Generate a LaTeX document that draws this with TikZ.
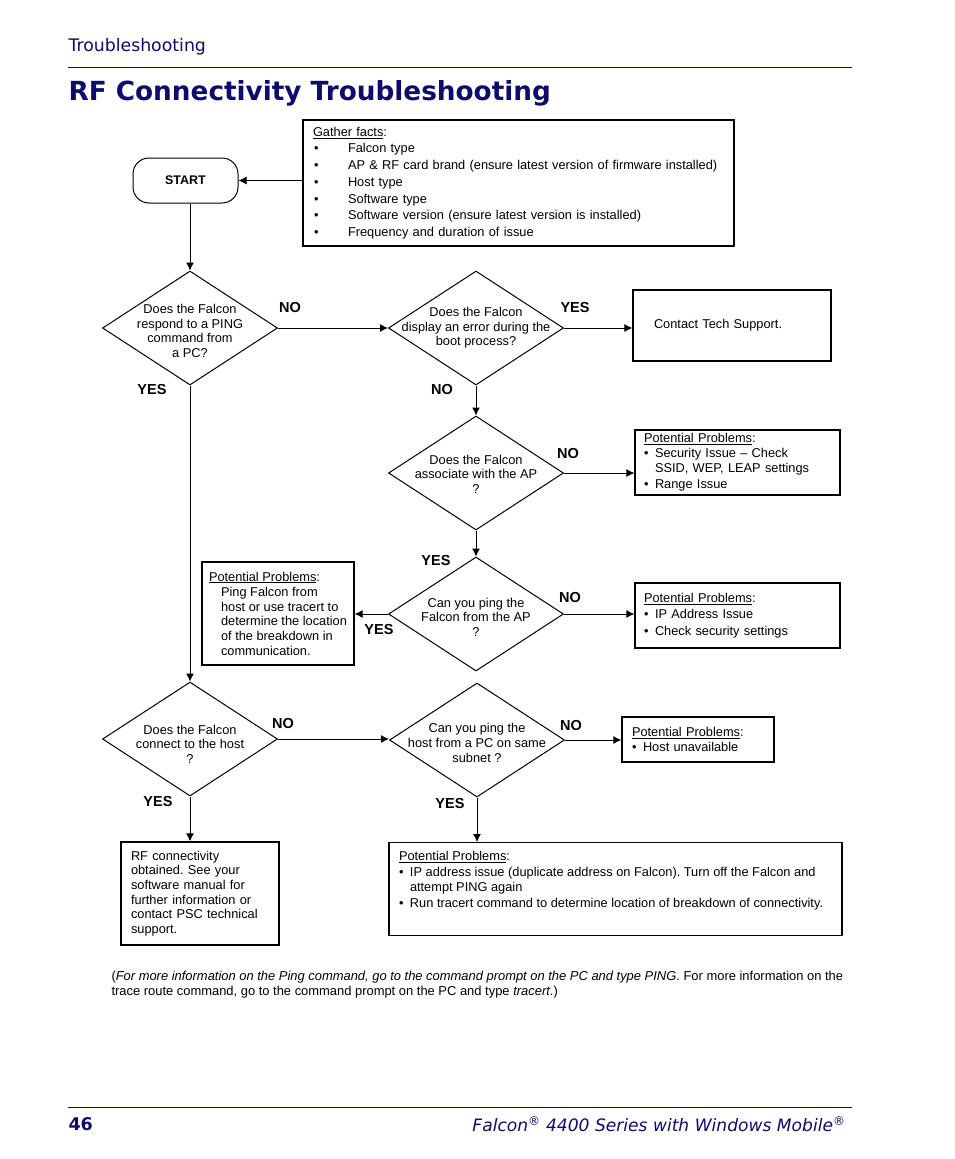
\documentclass[tikz,border=0pt]{standalone}
\usepackage{fontspec}
\setmainfont{Liberation Sans}
\newfontfamily\hdfont{DejaVu Sans}
\usetikzlibrary{positioning,arrows.meta,shapes.geometric}
\definecolor{cNavy}{HTML}{0C0C6E}
\newcommand{\bul}{\makebox[11pt][l]{\textbullet}}
\newcommand{\gbul}{\makebox[35pt][l]{\hspace{1pt}\textbullet}}
\frenchspacing

\begin{document}
\begin{tikzpicture}[x=1pt,y=-1pt,line width=1pt,
  body/.style={font=\fontsize{12.8}{14.6}\selectfont},
  box/.style={draw,line width=1.3pt,body,align=left,inner ysep=0pt},
  startbox/.style={draw,rounded corners=16pt,minimum width=105pt,minimum height=45pt,font=\fontsize{12.5}{14}\selectfont\bfseries},
  dec/.style={diamond,draw,minimum width=175pt,minimum height=114pt,inner sep=0pt},
  qtext/.style={align=center,body,inner sep=0pt},
  yn/.style={font=\fontsize{14.5}{15}\selectfont\bfseries,inner sep=0pt},
  arr/.style={-{Latex[length=8pt,width=8pt]}}]
  \useasboundingbox (0,0) rectangle (954,1159);
  % page header
  \node[anchor=west,inner sep=0pt,text=cNavy,font=\hdfont\fontsize{17.3}{19}\selectfont] (hdr) at (68,47) {Troubleshooting};
  \draw[cNavy] (68,67) -- (852,67);
  \node[anchor=west,inner sep=0pt,text=cNavy,font=\hdfont\fontsize{26.3}{29}\selectfont\bfseries] (title) at (68,93) {RF Connectivity Troubleshooting};
  % start and facts
  \node[startbox] (start) at (185.5,180.5) {START};
  \node[box,font=\fontsize{12.8}{16.7}\selectfont,inner xsep=10pt,text width=411pt,minimum height=126pt] (facts) at (518.5,183)
    {\underline{Gather facts}:\\
     \gbul Falcon type\\
     \gbul AP \& RF card brand (ensure latest version of firmware installed)\\
     \gbul Host type\\
     \gbul Software type\\
     \gbul Software version (ensure latest version is installed)\\
     \gbul Frequency and duration of issue};
  % decisions
  \node[dec,label={[qtext,yshift=-3pt]center:Does the Falcon\\respond to a PING\\command from\\a PC?}] (ping) at (190,328) {};
  \node[dec,label={[qtext]center:Does the Falcon\\display an error during the\\boot process?}] (booterr) at (476,328) {};
  \node[dec,label={[qtext,yshift=-1pt]center:Does the Falcon\\associate with the AP\\?}] (assoc) at (476,473) {};
  \node[dec,label={[qtext,yshift=-3pt]center:Can you ping the\\Falcon from the AP\\?}] (apping) at (476,614) {};
  \node[dec,label={[qtext,yshift=-5pt]center:Does the Falcon\\connect to the host\\?}] (hostconn) at (190,739) {};
  \node[dec,label={[qtext,yshift=-3pt]center:Can you ping the\\host from a PC on same\\subnet ?}] (subnet) at (477,740) {};
  % outcome boxes
  \node[box,inner xsep=21pt,text width=156pt,minimum height=71pt] (support) at (732,325.5) {Contact Tech Support.};
  \node[box,inner xsep=9pt,text width=187pt,minimum height=65pt] (probAssoc) at (737.5,462.5)
    {\underline{Potential Problems}:\\ \bul Security Issue -- Check\\ \hspace*{11pt}SSID, WEP,\ LEAP settings\\[2pt] \bul Range Issue};
  \node[box,inner xsep=9pt,text width=187pt,minimum height=65pt] (probAP) at (737.5,615.5)
    {\underline{Potential Problems}:\\[2pt] \bul IP Address Issue\\[2pt] \bul Check security settings};
  \node[box,minimum width=152pt,minimum height=103pt] (probTrace) at (278,613.5)
    {\underline{Potential Problems}:\\[1pt] \hspace*{12pt}Ping Falcon from\\ \hspace*{12pt}host or use tracert to\\ \hspace*{12pt}determine the location\\ \hspace*{12pt}of the breakdown in\\ \hspace*{12pt}communication.};
  \node[box,inner xsep=10pt,text width=132pt,minimum height=45pt] (probHost) at (698,739.5)
    {\underline{Potential Problems}:\\[1pt] \bul Host unavailable};
  \node[box,inner xsep=10pt,text width=138pt,minimum height=103pt] (rfok) at (200,893.5)
    {RF connectivity\\obtained. See your\\software manual for\\further information or\\contact PSC technical\\support.};
  \node[box,inner xsep=10pt,inner ysep=9pt,anchor=north] (probIP) at (615.5,842)
    {\begin{minipage}[t][75pt][t]{433pt}\raggedright
     \underline{Potential Problems}:\\[1pt]
     \bul IP address issue (duplicate address on Falcon). Turn off the Falcon and\\ \hspace*{11pt}attempt PING again\\[2pt]
     \bul Run tracert command to determine location of breakdown of connectivity.
     \end{minipage}};
  % yes / no labels
  \node[yn] (pingNo) at (290,308) {NO};
  \node[yn] (pingYes) at (152,390) {YES};
  \node[yn] (bootYes) at (575,308) {YES};
  \node[yn] (bootNo) at (442,390) {NO};
  \node[yn] (assocNo) at (568,454) {NO};
  \node[yn] (assocYes) at (436,561) {YES};
  \node[yn] (apNo) at (570,598) {NO};
  \node[yn] (apYes) at (379,630) {YES};
  \node[yn] (hostNo) at (283,723) {NO};
  \node[yn] (hostYes) at (158,801) {YES};
  \node[yn] (subnetNo) at (571,725) {NO};
  \node[yn] (subnetYes) at (450,803) {YES};
  % connectors
  \draw[arr] (facts.west |- start.east) -- (start.east);
  \draw[arr] (ping.north |- start.south) -- (ping.north);
  \draw[arr] (ping.east) -- (booterr.west);
  \draw[arr] (booterr.east) -- (booterr.east -| support.west);
  \draw[arr] (booterr.south) -- (assoc.north);
  \draw[arr] (assoc.east) -- (assoc.east -| probAssoc.west);
  \draw[arr] (assoc.south) -- (apping.north);
  \draw[arr] (apping.east) -- (apping.east -| probAP.west);
  \draw[arr] (apping.west) -- (apping.west -| probTrace.east);
  \draw[arr] (ping.south) -- (hostconn.north);
  \draw[arr] (hostconn.east) -- (hostconn.east -| subnet.west);
  \draw[arr] (subnet.east) -- (subnet.east -| probHost.west);
  \draw[arr] (hostconn.south) -- (hostconn.south |- rfok.north);
  \draw[arr] (subnet.south) -- (subnet.south |- probIP.north);
  % note and page footer
  \node[anchor=north west,inner sep=0pt,align=left,font=\fontsize{12.93}{15}\selectfont] (note) at (111,971)
    {(\textit{For more information on the Ping command, go to the command prompt on the PC and type PING}. For more information on the\\
     trace route command, go to the command prompt on the PC and type \textit{tracert}.)};
  \draw[cNavy] (68,1107) -- (852,1107);
  \node[anchor=west,inner sep=0pt,text=cNavy,font=\hdfont\fontsize{17.5}{19}\selectfont\bfseries] (pgno) at (68,1124) {46};
  \node[anchor=east,inner sep=0pt,text=cNavy,font=\hdfont\fontsize{17.1}{19}\selectfont\itshape] (foot) at (846,1124)
    {Falcon\textsuperscript{®} 4400 Series with Windows Mobile\textsuperscript{®}};
\end{tikzpicture}
\end{document}
